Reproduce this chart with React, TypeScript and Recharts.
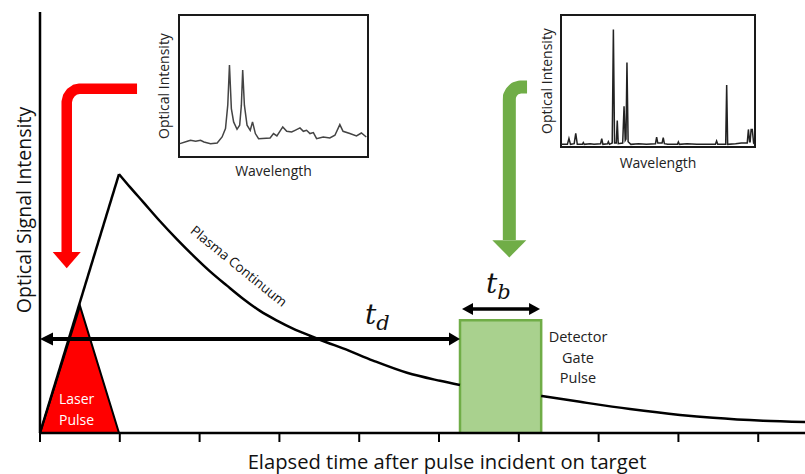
import React from "react";
import {
  ComposedChart,
  LineChart,
  Line,
  Area,
  XAxis,
  YAxis,
  ReferenceArea,
  ReferenceDot,
} from "recharts";

// main axes: x in tick steps (0..9), y in % of axis height
const timeTicks = [0, 1, 2, 3, 4, 5, 6, 7, 8, 9];

const riseCurve = [
  { t: 0, v: 0 },
  { t: 0.99, v: 61.5 },
];

// continuum, split where the gate box covers it
const plasmaCurve = [
  { t: 0.99, v: 61.5 },
  { t: 1.128, v: 58.4 },
  { t: 1.291, v: 54.9 },
  { t: 1.504, v: 50.3 },
  { t: 1.717, v: 46.0 },
  { t: 1.917, v: 42.2 },
  { t: 2.13, v: 38.4 },
  { t: 2.343, v: 35.0 },
  { t: 2.544, v: 31.9 },
  { t: 2.757, v: 29.0 },
  { t: 2.97, v: 26.7 },
  { t: 3.17, v: 24.8 },
  { t: 3.383, v: 23.1 },
  { t: 3.596, v: 21.5 },
  { t: 3.797, v: 20.1 },
  { t: 4.173, v: 17.2 },
  { t: 4.599, v: 14.3 },
  { t: 5.013, v: 12.4 },
  { t: 5.263, v: 11.4 },
];
const plasmaTail = [
  { t: 6.28, v: 8.8 },
  { t: 6.767, v: 7.4 },
  { t: 7.393, v: 5.7 },
  { t: 8.02, v: 4.3 },
  { t: 8.434, v: 3.6 },
  { t: 9.06, v: 2.9 },
  { t: 9.586, v: 2.6 },
];

const laserPulse = [
  { t: 0, v: 0 },
  { t: 0.501, v: 30.2 },
  { t: 0.99, v: 0 },
];

const detectorGate = [
  { t: 5.263, v: 0 },
  { t: 5.263, v: 26.8 },
  { t: 6.28, v: 26.8 },
  { t: 6.28, v: 0 },
];

const delayArrow = [
  { t: 0.075, v: 22.33 },
  { t: 5.188, v: 22.33 },
];
const gateArrow = [
  { t: 5.363, v: 29.45 },
  { t: 6.19, v: 29.45 },
];

const laserArrow = [
  { t: 1.216, v: 81.78 },
  { t: 0.501, v: 81.78 },
  { t: 0.439, v: 81.54 },
  { t: 0.388, v: 80.88 },
  { t: 0.351, v: 79.88 },
  { t: 0.335, v: 78.69 },
  { t: 0.335, v: 42.99 },
];
const detectorArrow = [
  { t: 6.103, v: 82.19 },
  { t: 6.015, v: 82.19 },
  { t: 5.952, v: 81.83 },
  { t: 5.909, v: 81.0 },
  { t: 5.883, v: 80.05 },
  { t: 5.881, v: 79.1 },
  { t: 5.881, v: 45.84 },
];

// inset spectra, both axes 0..100
const broadSpectrum = [
  { w: 0.5, i: 9.4 }, { w: 4.4, i: 11.1 }, { w: 6.1, i: 11.8 }, { w: 8.8, i: 11.1 },
  { w: 11.4, i: 11.8 }, { w: 13.2, i: 10.6 }, { w: 16.7, i: 9.4 }, { w: 20.2, i: 9.9 },
  { w: 22.8, i: 14.1 }, { w: 24.6, i: 20.0 }, { w: 25.8, i: 36.5 }, { w: 26.7, i: 64.7 },
  { w: 27.7, i: 34.1 }, { w: 28.9, i: 24.7 }, { w: 30.7, i: 19.5 }, { w: 32.1, i: 22.4 },
  { w: 33.0, i: 36.5 }, { w: 33.7, i: 61.2 }, { w: 34.6, i: 36.5 }, { w: 36.0, i: 22.4 },
  { w: 37.7, i: 18.8 }, { w: 38.9, i: 24.7 }, { w: 40.4, i: 16.5 }, { w: 42.1, i: 12.9 },
  { w: 48.2, i: 13.4 }, { w: 50.0, i: 16.5 }, { w: 51.8, i: 14.8 }, { w: 54.9, i: 21.2 },
  { w: 57.0, i: 18.1 }, { w: 59.6, i: 17.6 }, { w: 61.4, i: 18.8 }, { w: 64.0, i: 20.5 },
  { w: 65.8, i: 18.1 }, { w: 67.5, i: 18.8 }, { w: 69.3, i: 16.5 }, { w: 71.1, i: 17.2 },
  { w: 72.8, i: 12.9 }, { w: 76.3, i: 14.1 }, { w: 79.8, i: 13.4 }, { w: 82.5, i: 15.3 },
  { w: 85.1, i: 22.8 }, { w: 86.8, i: 18.1 }, { w: 90.4, i: 16.5 }, { w: 93.9, i: 14.8 },
  { w: 96.5, i: 16.9 }, { w: 99.1, i: 14.1 },
];

const lineSpectrum = [
  { w: 0, i: 2 }, { w: 3.3, i: 2 }, { w: 4.1, i: 6.5 }, { w: 4.9, i: 2 }, { w: 6.8, i: 2.5 },
  { w: 7.6, i: 10.3 }, { w: 8.4, i: 2 }, { w: 11, i: 2 }, { w: 11.5, i: 3.3 }, { w: 12, i: 2 },
  { w: 15, i: 2.5 }, { w: 17, i: 2 }, { w: 20.4, i: 2.5 }, { w: 21, i: 6.3 }, { w: 21.6, i: 2 },
  { w: 24, i: 2.5 }, { w: 24.4, i: 4 }, { w: 25, i: 2 }, { w: 26.4, i: 3 }, { w: 27, i: 89 },
  { w: 27.6, i: 3 }, { w: 28.5, i: 3 }, { w: 29, i: 20 }, { w: 29.5, i: 2.5 }, { w: 31.8, i: 3 },
  { w: 32.5, i: 30.8 }, { w: 33.1, i: 5 }, { w: 33.5, i: 6 }, { w: 34, i: 64 }, { w: 34.6, i: 4 },
  { w: 36, i: 2 }, { w: 40, i: 2.5 }, { w: 44, i: 2 }, { w: 48.7, i: 2.5 }, { w: 49.3, i: 7.5 },
  { w: 49.9, i: 3 }, { w: 52.1, i: 3 }, { w: 52.7, i: 7 }, { w: 53.3, i: 2.5 }, { w: 55, i: 2 },
  { w: 60, i: 2 }, { w: 60.5, i: 3.8 }, { w: 61, i: 2 }, { w: 65, i: 2.5 }, { w: 70, i: 2 },
  { w: 75, i: 2 }, { w: 79.6, i: 2 }, { w: 80.2, i: 4.5 }, { w: 80.8, i: 2 }, { w: 84.9, i: 2 },
  { w: 85.4, i: 47 }, { w: 85.9, i: 2 }, { w: 90, i: 2.5 }, { w: 93, i: 3 }, { w: 96, i: 3 },
  { w: 96.6, i: 13.3 }, { w: 97.2, i: 4 }, { w: 97.5, i: 4 }, { w: 98, i: 13.3 },
  { w: 98.6, i: 13.3 }, { w: 99.3, i: 3 }, { w: 100, i: 2 },
];

const FONT = "'Open Sans', Lato, sans-serif";
const MATH = "'DejaVu Serif', serif";
const RED = "#FF0000";
const GREEN = "#70AD47";

const head = (dir: string, len: number, half: number, color: string) => (p: any) => {
  const { cx, cy } = p;
  let pts: number[][];
  if (dir === "left") pts = [[cx, cy], [cx + len, cy - half], [cx + len, cy + half]];
  else if (dir === "right") pts = [[cx, cy], [cx - len, cy - half], [cx - len, cy + half]];
  else pts = [[cx, cy], [cx - half, cy - len], [cx + half, cy - len]];
  return <polygon points={pts.map((q) => q.join(",")).join(" ")} fill={color} />;
};

const noTick = () => <g />;

// text drawn on top of everything
function Annotations() {
  return (
    <svg width={805} height={474} style={{ position: "absolute", left: 0, top: 0, pointerEvents: "none" }}>
      <g fontFamily={FONT}>
        <text x={23} y={210} transform="rotate(-90 23 210)" textAnchor="middle" dominantBaseline="central" fontSize={19.5} fill="#111">
          Optical Signal Intensity
        </text>
        <text x={447} y={469} textAnchor="middle" fontSize={20.2} fill="#111">
          Elapsed time after pulse incident on target
        </text>
        <text transform="translate(239 266) rotate(39)" textAnchor="middle" dominantBaseline="central" fontSize={13.5} fill="#111">
          Plasma Continuum
        </text>
        <text x={59} y={398} dominantBaseline="central" fontSize={14} fill="#fff">Laser</text>
        <text x={59} y={419} dominantBaseline="central" fontSize={14} fill="#fff">Pulse</text>
        <text x={578} y={336} textAnchor="middle" dominantBaseline="central" fontSize={14.5} fill="#222">Detector</text>
        <text x={578} y={357} textAnchor="middle" dominantBaseline="central" fontSize={14.5} fill="#222">Gate</text>
        <text x={578} y={377} textAnchor="middle" dominantBaseline="central" fontSize={14.5} fill="#222">Pulse</text>
      </g>
      <text x={365} y={324} fontFamily={MATH} fontStyle="italic" fontSize={28} fill="#111">
        t<tspan fontSize={21} dy={6}>d</tspan>
      </text>
      <text x={486} y={293} fontFamily={MATH} fontStyle="italic" fontSize={28} fill="#111">
        t<tspan fontSize={21} dy={6}>b</tspan>
      </text>
    </svg>
  );
}

type SpectrumProps = {
  data: { w: number; i: number }[];
  left: number;
  top: number;
  width: number;
  height: number;
  axisW: number;
  axisH: number;
  stroke: string;
};

function Spectrum({ data, left, top, width, height, axisW, axisH, stroke }: SpectrumProps) {
  return (
    <div style={{ position: "absolute", left, top }}>
      <LineChart width={width} height={height} data={data} margin={{ top: 5, right: 7, left: 0, bottom: 0 }}>
        <XAxis
          dataKey="w"
          type="number"
          domain={[0, 100]}
          tick={false}
          tickLine={false}
          axisLine={false}
          height={axisH}
          label={{ value: "Wavelength", position: "center", fontSize: 14, fill: "#222", fontFamily: FONT }}
        />
        <YAxis
          type="number"
          domain={[0, 100]}
          tick={false}
          tickLine={false}
          axisLine={false}
          width={axisW}
          label={{ value: "Optical Intensity", angle: -90, position: "center", fontSize: 14, fill: "#222", fontFamily: FONT }}
        />
        <ReferenceArea x1={0} x2={100} y1={0} y2={100} fill="none" stroke="#1a1a1a" strokeWidth={2} />
        <Line dataKey="i" type="linear" stroke={stroke} strokeWidth={1.5} dot={false} activeDot={false} isAnimationActive={false} />
      </LineChart>
    </div>
  );
}

export default function App() {
  return (
    <div style={{ position: "absolute", left: 0, top: 0, width: 805, height: 474, background: "#fff" }}>
      <ComposedChart width={805} height={474} margin={{ top: 12, right: 0, bottom: 0, left: 0 }}>
        <XAxis
          dataKey="t"
          type="number"
          domain={[0, 9.586]}
          ticks={timeTicks}
          tick={noTick}
          tickSize={9}
          tickLine={{ stroke: "#000", strokeWidth: 2 }}
          axisLine={{ stroke: "#000", strokeWidth: 2.5 }}
          height={41}
        />
        <YAxis
          type="number"
          domain={[0, 100]}
          tick={false}
          tickLine={false}
          axisLine={{ stroke: "#000", strokeWidth: 2.5 }}
          width={40}
        />
        <Area data={laserPulse} dataKey="v" type="linear" fill={RED} fillOpacity={1} stroke="#000" strokeWidth={2} dot={false} activeDot={false} isAnimationActive={false} />
        <Area data={detectorGate} dataKey="v" type="linear" fill="#A9D18E" fillOpacity={1} stroke={GREEN} strokeWidth={2.5} dot={false} activeDot={false} isAnimationActive={false} />
        <Line data={riseCurve} dataKey="v" type="linear" stroke="#000" strokeWidth={2.5} dot={false} activeDot={false} isAnimationActive={false} />
        <Line data={plasmaCurve} dataKey="v" type="monotone" stroke="#000" strokeWidth={2.5} dot={false} activeDot={false} isAnimationActive={false} />
        <Line data={plasmaTail} dataKey="v" type="monotone" stroke="#000" strokeWidth={2.5} dot={false} activeDot={false} isAnimationActive={false} />
        <Line data={delayArrow} dataKey="v" type="linear" stroke="#000" strokeWidth={4} dot={false} activeDot={false} isAnimationActive={false} />
        <Line data={gateArrow} dataKey="v" type="linear" stroke="#000" strokeWidth={3.5} dot={false} activeDot={false} isAnimationActive={false} />
        <Line data={laserArrow} dataKey="v" type="linear" stroke={RED} strokeWidth={10.5} strokeLinejoin="round" dot={false} activeDot={false} isAnimationActive={false} />
        <Line data={detectorArrow} dataKey="v" type="linear" stroke={GREEN} strokeWidth={13} strokeLinejoin="round" dot={false} activeDot={false} isAnimationActive={false} />
        <ReferenceDot x={0} y={22.33} r={1} shape={head("left", 13, 6.5, "#000")} />
        <ReferenceDot x={5.263} y={22.33} r={1} shape={head("right", 11, 6.5, "#000")} />
        <ReferenceDot x={5.288} y={29.45} r={1} shape={head("left", 11, 6, "#000")} />
        <ReferenceDot x={6.266} y={29.45} r={1} shape={head("right", 11, 6, "#000")} />
        <ReferenceDot x={0.335} y={39.12} r={1} shape={head("down", 16.3, 14, RED)} />
        <ReferenceDot x={5.881} y={41.7} r={1} shape={head("down", 17.3, 17, GREEN)} />
      </ComposedChart>
      <Spectrum data={broadSpectrum} left={150} top={10} width={225} height={175} axisW={29} axisH={28} stroke="#444" />
      <Spectrum data={lineSpectrum} left={533} top={10} width={229} height={169} axisW={28} axisH={32} stroke="#222" />
      <Annotations />
    </div>
  );
}
